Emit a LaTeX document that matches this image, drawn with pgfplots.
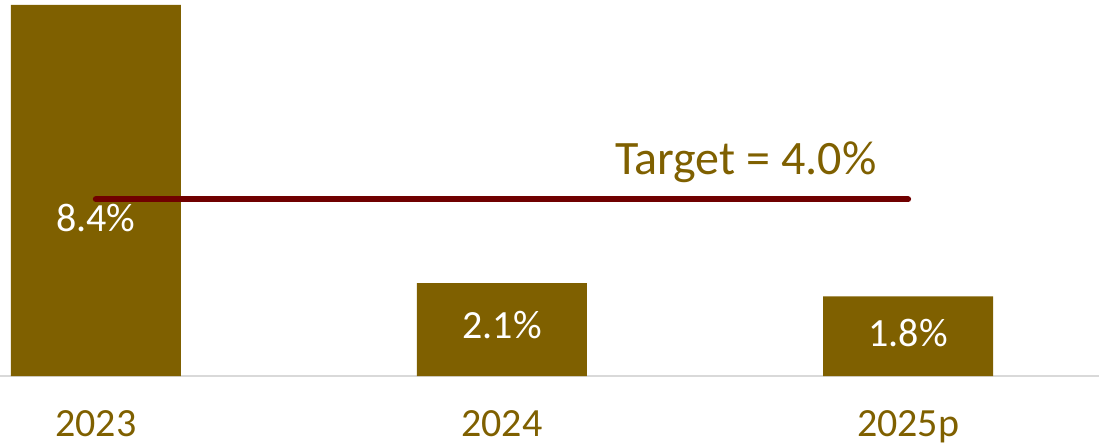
\documentclass[border=0pt]{standalone}
\usepackage{fontspec}
\setmainfont{Carlito}
\usepackage{pgfplots}
\pgfplotsset{compat=1.18}
\definecolor{barc}{HTML}{7F6000}
\definecolor{linec}{HTML}{700000}
\definecolor{axc}{HTML}{D9D9D9}
\begin{document}
\begin{tikzpicture}
\useasboundingbox (0,-34.5pt) rectangle (549.5pt,188pt);
\begin{axis}[
  at={(0,0)}, anchor=south west,
  scale only axis, width=549.5pt, height=188pt,
  xmin=-0.236, xmax=2.470, ymin=0, ymax=8.51,
  axis x line*=bottom, axis y line=none,
  x axis line style={color=axc, line width=1pt, -},
  xtick={0,1,2}, xticklabels={2023,2024,2025p},
  major tick length=0pt,
  xticklabel style={anchor=base, yshift=-30pt, font=\fontsize{20}{24}\selectfont, text=barc},
  clip=false,
]
\addplot[ybar, bar width=85pt, bar shift=0pt, fill=barc, draw=none] coordinates {(0,8.4) (1,2.1) (2,1.8)};
\addplot[linec, line width=3pt, line cap=round] coordinates {(0,4.0) (2,4.0)};
\node[text=white, font=\fontsize{20}{24}\selectfont] at (axis cs:0,3.57) {8.4\%};
\node[text=white, font=\fontsize{20}{24}\selectfont] at (axis cs:1,1.15) {2.1\%};
\node[text=white, font=\fontsize{20}{24}\selectfont] at (axis cs:2,0.97) {1.8\%};
\node[text=barc, font=\fontsize{24}{28}\selectfont] at (axis cs:1.60,4.84) {Target = 4.0\%};
\end{axis}
\end{tikzpicture}
\end{document}
